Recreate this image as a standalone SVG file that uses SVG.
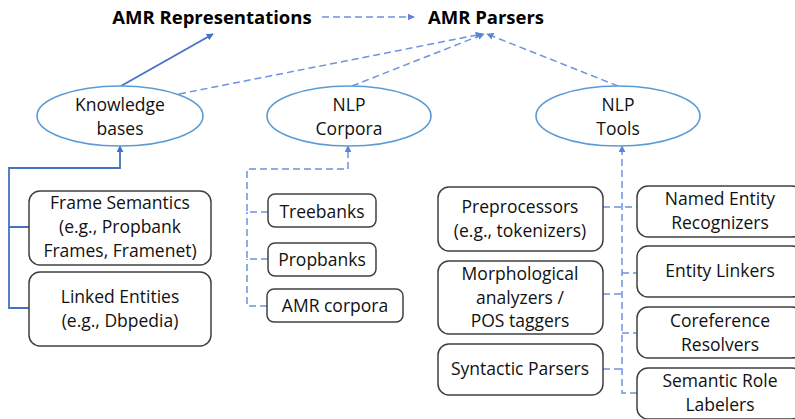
<svg xmlns="http://www.w3.org/2000/svg" width="795" height="419" viewBox="0 0 795 419">
<defs>
<marker id="ah" viewBox="0 0 10 10" refX="9" refY="5" markerWidth="7" markerHeight="7" markerUnits="userSpaceOnUse" orient="auto">
<path d="M0,0 L10,5 L0,10 z" fill="#4472C4"/>
</marker>
<marker id="ahd" viewBox="0 0 10 10" refX="9" refY="5" markerWidth="7" markerHeight="7" markerUnits="userSpaceOnUse" orient="auto">
<path d="M0,0 L10,5 L0,10 z" fill="#5B84D6"/>
</marker>
</defs>
<style>
text{font-family:"Open Sans","Noto Sans","Liberation Sans",sans-serif;fill:#111;text-anchor:middle;font-size:17.5px}
.title{font-weight:bold;font-size:18.5px;fill:#000}
.ell{fill:#fff;stroke:#5B9BD5;stroke-width:1.6}
.box{fill:#fff;stroke:#404040;stroke-width:1.5}
.solid{fill:none;stroke:#4472C4;stroke-width:1.8}
.dash{fill:none;stroke:#6F93DE;stroke-width:1.5;stroke-dasharray:7 4}
</style>
<rect width="795" height="419" fill="#fff"/>
<g id="connectors">
<line class="dash" x1="322" y1="17" x2="414" y2="17" marker-end="url(#ahd)"/>
<line class="solid" x1="121" y1="86" x2="213" y2="34" marker-end="url(#ah)"/>
<line class="dash" x1="179" y1="94" x2="482" y2="34" marker-end="url(#ahd)"/>
<line class="dash" x1="352" y1="86" x2="484" y2="34" marker-end="url(#ahd)"/>
<line class="dash" x1="618" y1="86" x2="487" y2="34" marker-end="url(#ahd)"/>
<polyline class="solid" points="29,227 9,227 9,168 120,168 120,146" marker-end="url(#ah)"/>
<polyline class="solid" points="29,308 9,308 9,227"/>
<polyline class="dash" points="268,212 247,212 247,169 348,169 348,146" marker-end="url(#ahd)"/>
<polyline class="dash" points="268,259 247,259 247,212"/>
<polyline class="dash" points="267,306 247,306 247,259"/>
<polyline class="dash" points="637,393 622,393 622,146" marker-end="url(#ahd)"/>
<line class="dash" x1="603" y1="207" x2="637" y2="207"/>
<line class="dash" x1="603" y1="294" x2="622" y2="294"/>
<line class="dash" x1="603" y1="369" x2="622" y2="369"/>
<line class="dash" x1="622" y1="273" x2="637" y2="273"/>
<line class="dash" x1="622" y1="333" x2="637" y2="333"/>
</g>
<g id="amr-representations"><text class="title" x="212" y="24">AMR Representations</text></g>
<g id="amr-parsers"><text class="title" x="486" y="24">AMR Parsers</text></g>
<g id="knowledge-bases">
<ellipse class="ell" cx="120" cy="116" rx="83" ry="30"/>
<text x="120" y="111">Knowledge</text><text x="120" y="135">bases</text>
</g>
<g id="nlp-corpora">
<ellipse class="ell" cx="349" cy="116" rx="82" ry="30"/>
<text x="349" y="111">NLP</text><text x="349" y="135">Corpora</text>
</g>
<g id="nlp-tools">
<ellipse class="ell" cx="618" cy="116" rx="82" ry="30"/>
<text x="618" y="111">NLP</text><text x="618" y="135">Tools</text>
</g>
<g id="frame-semantics">
<rect class="box" x="29" y="191" width="182" height="74" rx="11"/>
<text x="120" y="209">Frame Semantics</text><text x="120" y="233">(e.g., Propbank</text><text x="120" y="257">Frames, Framenet)</text>
</g>
<g id="linked-entities">
<rect class="box" x="29" y="272" width="182" height="74" rx="11"/>
<text x="120" y="303">Linked Entities</text><text x="120" y="327">(e.g., Dbpedia)</text>
</g>
<g id="treebanks">
<rect class="box" x="268" y="194" width="108" height="33" rx="7"/>
<text x="322" y="218">Treebanks</text>
</g>
<g id="propbanks">
<rect class="box" x="268" y="243" width="108" height="33" rx="7"/>
<text x="322" y="266">Propbanks</text>
</g>
<g id="amr-corpora">
<rect class="box" x="267" y="289" width="136" height="33" rx="7"/>
<text x="335" y="312">AMR corpora</text>
</g>
<g id="preprocessors">
<rect class="box" x="438" y="187" width="165" height="64" rx="11"/>
<text x="520" y="213">Preprocessors</text><text x="520" y="237">(e.g., tokenizers)</text>
</g>
<g id="morphological">
<rect class="box" x="438" y="261" width="165" height="73" rx="11"/>
<text x="520" y="280">Morphological</text><text x="520" y="304">analyzers /</text><text x="520" y="327">POS taggers</text>
</g>
<g id="syntactic-parsers">
<rect class="box" x="438" y="344" width="165" height="51" rx="11"/>
<text x="520" y="375">Syntactic Parsers</text>
</g>
<g id="named-entity">
<rect class="box" x="637" y="186" width="166" height="51" rx="11"/>
<text x="720" y="205">Named Entity</text><text x="720" y="229">Recognizers</text>
</g>
<g id="entity-linkers">
<rect class="box" x="637" y="246" width="166" height="51" rx="11"/>
<text x="720" y="277">Entity Linkers</text>
</g>
<g id="coreference">
<rect class="box" x="637" y="307" width="166" height="51" rx="11"/>
<text x="720" y="327">Coreference</text><text x="720" y="351">Resolvers</text>
</g>
<g id="semantic-role">
<rect class="box" x="637" y="368" width="166" height="51" rx="11"/>
<text x="720" y="387">Semantic Role</text><text x="720" y="411">Labelers</text>
</g>
</svg>
